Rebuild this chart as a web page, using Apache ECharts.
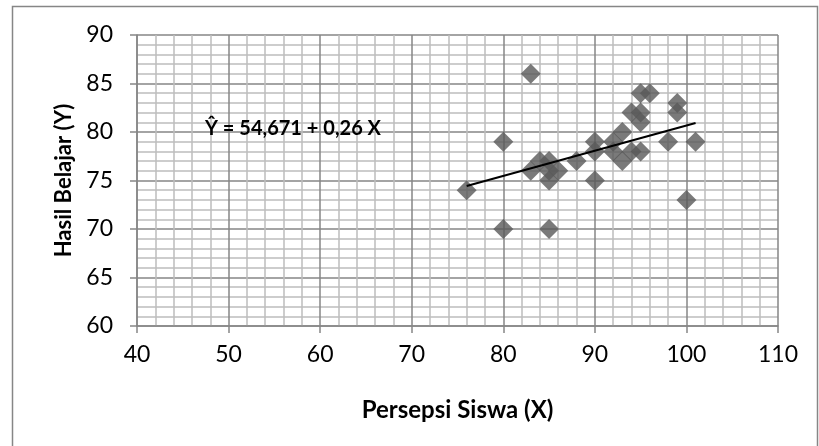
<!DOCTYPE html>
<html>
<head>
<meta charset="utf-8">
<script src="https://cdn.jsdelivr.net/npm/echarts@6/dist/echarts.min.js"></script>
<style>
  html, body { margin: 0; padding: 0; background: #fff; }
  #chart { width: 819px; height: 446px; }
</style>
</head>
<body>
<div id="chart"></div>
<script>
// Student perception score (X) and learning result (Y), one pair per student
const persepsiX = [76, 80, 80, 83, 83, 84, 85, 85, 85, 85, 86, 88, 90, 90, 90, 92, 92, 93, 93, 94, 94, 95, 95, 95, 95, 96, 98, 99, 99, 100, 101];
const hasilY    = [74, 79, 70, 86, 76, 77, 77, 76, 75, 70, 76, 77, 79, 78, 75, 79, 78, 80, 77, 78, 82, 84, 82, 81, 78, 84, 79, 83, 82, 73, 79];

// Fitted regression: Y = a + b X
const intercept = 54.671;
const slope = 0.26;
const equationText = 'Ŷ = 54,671 + 0,26 X';

// Axis ranges
const xTicks = [40, 50, 60, 70, 80, 90, 100, 110];
const yTicks = [60, 65, 70, 75, 80, 85, 90];

const points = persepsiX.map((x, i) => [x, hasilY[i]]);
const xMin = Math.min(...persepsiX);
const xMax = Math.max(...persepsiX);
const fitLine = [xMin, xMax].map(x => [x, intercept + slope * x]);

const FONT = 'Lato, "Open Sans", sans-serif';
const chart = echarts.init(document.getElementById('chart'), null, { renderer: 'canvas' });

chart.setOption({
  animation: false,
  backgroundColor: '#ffffff',
  grid: { left: 137, right: 41, top: 35, bottom: 120, containLabel: false },
  graphic: [
    {
      type: 'rect',
      shape: { x: 12.5, y: 6.5, width: 805, height: 460 },
      style: { fill: 'none', stroke: '#868686', lineWidth: 1.5 },
      silent: true, z: -10
    },
    {
      type: 'text',
      left: 205, top: 119,
      style: { text: equationText, font: 'bold 20px ' + FONT, fill: '#000' },
      z: 20
    }
  ],
  xAxis: {
    type: 'value',
    min: xTicks[0], max: xTicks[xTicks.length - 1], interval: 10,
    name: 'Persepsi Siswa (X)',
    nameLocation: 'middle', nameGap: 72,
    nameTextStyle: { fontFamily: FONT, fontWeight: 'bold', fontSize: 24, color: '#000' },
    axisLine: { show: true, onZero: false, lineStyle: { color: '#868686', width: 1.5 } },
    axisTick: { show: true, length: 7, lineStyle: { color: '#868686', width: 1.5 } },
    axisLabel: { fontFamily: FONT, fontSize: 23, color: '#000', margin: 17 },
    splitLine: { show: true, lineStyle: { color: '#868686', width: 1.5 } },
    minorTick: { show: false, splitNumber: 5 },
    minorSplitLine: { show: true, lineStyle: { color: '#bdbdbd', width: 1.5 } }
  },
  yAxis: {
    type: 'value',
    min: yTicks[0], max: yTicks[yTicks.length - 1], interval: 5,
    name: 'Hasil Belajar (Y)',
    nameLocation: 'middle', nameGap: 62, nameRotate: 90,
    nameTextStyle: { fontFamily: FONT, fontWeight: 'bold', fontSize: 22, color: '#000' },
    axisLine: { show: true, onZero: false, lineStyle: { color: '#868686', width: 1.5 } },
    axisTick: { show: true, length: 7, lineStyle: { color: '#868686', width: 1.5 } },
    axisLabel: { fontFamily: FONT, fontSize: 23, color: '#000', margin: 24 },
    splitLine: { show: true, lineStyle: { color: '#868686', width: 1.5 } },
    minorTick: { show: false, splitNumber: 5 },
    minorSplitLine: { show: true, lineStyle: { color: '#bdbdbd', width: 1.5 } }
  },
  series: [
    {
      type: 'scatter',
      data: points,
      symbol: 'diamond',
      symbolSize: 20,
      itemStyle: { color: '#595959' },
      z: 3
    },
    {
      type: 'line',
      data: fitLine,
      symbol: 'none',
      lineStyle: { color: '#000', width: 2 },
      z: 4
    }
  ]
});
</script>
</body>
</html>
